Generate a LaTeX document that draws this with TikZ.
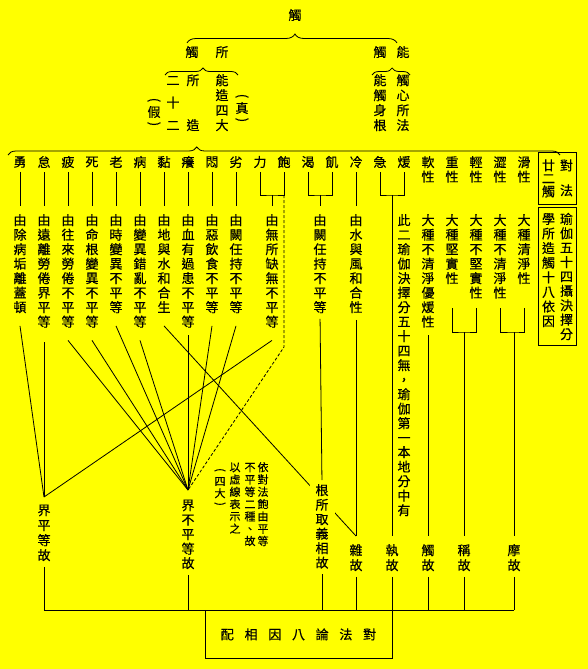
\documentclass[tikz,border=0pt]{standalone}
\usepackage{fontspec}
\setmainfont[FakeBold=0.3]{Noto Sans CJK TC}
\usetikzlibrary{decorations.pathreplacing}

\definecolor{paper}{HTML}{FFFF00}

% vertical column of characters, one per line
\makeatletter
\let\vt@end\relax
\newcommand\vtxt[2][14.5pt]{\vtop{\baselineskip=#1\relax\lineskiplimit=-100pt\lineskip=0pt\expandafter\vt@loop#2\vt@end}}
\def\vt@loop#1{\ifx#1\vt@end\else\hbox to 1em{\hss\vrule height .88em depth .12em width 0pt\relax#1\hss}\expandafter\vt@loop\fi}
\makeatother

\pgfdeclarelayer{bg}
\pgfdeclarelayer{lines}
\pgfsetlayers{bg,lines,main}

\tikzset{
  zh/.style={inner sep=0pt, font=\fontsize{13}{14.5}\selectfont},
  col/.style={zh, anchor=north},
  small/.style={inner sep=0pt, anchor=north, font=\fontsize{11}{12.3}\selectfont},
  link/.style={line width=0.8pt},
  curly/.style={decorate, decoration={brace, amplitude=#1}, line width=0.8pt},
}

\begin{document}
\begin{tikzpicture}[x=1pt,y=-1pt]
\begin{pgfonlayer}{bg}
  \fill[paper] (0,0) rectangle (588,669);
\end{pgfonlayer}

% top
\node[zh] (root) at (295,15) {觸};
\draw[curly=9pt, decoration={aspect=0.514}] (187,43) -- (397,43);
\node[zh] (made) at (207,52) {觸\hspace{17pt}所};
\node[zh] (able) at (391.5,52) {觸\hspace{10pt}能};

\draw[curly=7pt, decoration={aspect=0.52}] (165,75) -- (238,75);
\node[col] (ershier) at (173,73.5) {\vtxt[22.5pt]{二十二}};
\node[col] (suozao) at (193,73.5) {\vtxt[45pt]{所造}};
\node[col] (nengzao) at (222,73.5) {\vtxt[15pt]{能造四大}};
\node[zh] (jia) at (154,112) {假};
\node[zh, rotate=-90] (jiaL) at (154,100) {(};
\node[zh, rotate=-90] (jiaR) at (154,124) {)};
\node[zh] (zhen) at (242,108) {真};
\node[zh, rotate=-90] (zhenL) at (242,96) {(};
\node[zh, rotate=-90] (zhenR) at (242,120) {)};

\draw[curly=7pt, decoration={aspect=0.53}] (372,75) -- (410,75);
\node[col] (shengen) at (380,73.5) {\vtxt[15pt]{能觸身根}};
\node[col] (xinsuo) at (403,73.5) {\vtxt[15pt]{觸心所法}};

% the 22 kinds
\draw[curly=8pt, decoration={aspect=0.342}] (8,155) -- (560,155);
\foreach \ch [count=\n from 0] in {勇,怠,疲,死,老,病,黏,癢,悶,劣,力,飽,渴,飢,冷,急,煖}
  \node[zh] (t\n) at (20+24*\n,162) {\ch};
\foreach \ch [count=\n from 17] in {軟,重,輕,澀,滑}
  \node[col] (t\n) at (20+24*\n,155.5) {\vtxt{\ch 性}};

\node[zh, draw, link, inner xsep=3.5pt, inner ysep=6.5pt, anchor=north] (duifa) at (557.5,152)
  {\vtxt[13pt]{廿二觸}\hspace{5pt}\vtxt[25pt]{對法}};
\node[zh, draw, link, inner xsep=3.5pt, inner ysep=5pt, anchor=north] (yuqie) at (557.5,207)
  {\vtxt[14.6pt]{學所造觸十八依因}\hspace{5pt}\vtxt[14.4pt]{瑜伽五十四攝決擇分}};

% causes
\foreach \n/\txt in {0/由除病垢離蓋頓, 1/由遠離勞倦界平等, 2/由往來勞倦不平等,
    3/由命根變異不平等, 4/由時變異不平等, 5/由變異錯亂不平等, 6/由地與水和合生,
    7/由血有過患不平等, 8/由惡飲食不平等, 9/由闕任持不平等, 14/由水與風和合性,
    17/大種不清淨優煖性, 18/大種堅實性, 19/大種不堅實性, 20/大種不清淨性, 21/大種清淨性}
  \node[col] (d\n) at (20+24*\n,213.5) {\vtxt{\txt}};
\node[col] (d10) at (272,213.5) {\vtxt{由無所缺無不平等}};
\node[col] (d12) at (320,213.5) {\vtxt{由闕任持不平等}};
\node[col] (d15) at (404,213.5) {\vtxt{此二瑜伽決擇分五十四無，瑜伽第一本地分中有}};

% note on the dashed line
\node[small] (note1) at (263,461.5) {\vtxt[12.3pt]{依對法飽由平等}};
\node[small] (note2) at (250,461.5) {\vtxt[12.3pt]{不平等二種、故}};
\node[small] (note3) at (235,461.5) {\vtxt[12.3pt]{以虛線表示之}};
\node[small] (note4) at (220,475.5) {\vtxt[12pt]{四大}};
\node[small, anchor=center, rotate=-90] (note4L) at (220,470) {(};
\node[small, anchor=center, rotate=-90] (note4R) at (220,504) {)};

% the eight reasons
\node[col] (g0) at (44,503.5) {\vtxt[15pt]{界平等故}};
\node[col] (g1) at (188,498.5) {\vtxt{界不平等故}};
\node[col, fill=paper, inner xsep=6pt] (g2) at (322,483.5) {\vtxt{根所取義相故}};
\foreach \n/\x/\txt in {3/356/雜故, 4/392/執故, 5/428/觸故, 6/464/稱故, 7/514/摩故}
  \node[col] (g\n) at (\x,543.5) {\vtxt[15pt]{\txt}};
\node[zh, draw, link, anchor=north, minimum width=187pt, minimum height=48pt] (lun) at (298.5,610)
  {配\hspace{10.7pt}相\hspace{10.7pt}因\hspace{10.7pt}八\hspace{10.7pt}論\hspace{10.7pt}法\hspace{10.7pt}對};

\coordinate (c0) at (44,497);
\coordinate (c1) at (188,490);
\coordinate (c3) at (356,536);
\coordinate (j10) at (272,195);
\coordinate (j12) at (320,195);
\coordinate (j15) at (392,195);
\coordinate (k11) at (284,347);
\coordinate (j18) at (464,332);
\coordinate (j20) at (514,332);

\begin{pgfonlayer}{lines}
  \foreach \n in {0,...,9,14}
    \draw[link, shorten <=4pt, shorten >=8pt] (t\n.south) -- (d\n.north);
  \foreach \a/\b/\j in {10/11/j10, 12/13/j12, 15/16/j15}
    \draw[link, shorten <=4pt, shorten >=4pt] (t\a.south) |- (\j) -| (t\b.south);
  \draw[link, shorten >=8pt] (j10) -- (d10.north);
  \draw[link, shorten >=8pt] (j12) -- (d12.north);
  \draw[link, dash pattern=on 3pt off 2pt] (t11.south |- j10) -- (k11) -- (c1);

  \foreach \n in {0,10}
    \draw[link] ([yshift=-12pt]d\n.south) -- (c0);
  \draw[link, shorten <=14pt] (d1.south) -- (c0);
  \foreach \n in {2,3,4,5,8,9}
    \draw[link] ([yshift=-12pt]d\n.south) -- (c1);
  \draw[link, shorten <=7pt] (d7.south) -- (c1);
  \draw[link] ([yshift=-12pt]d6.south) -- (c3);
  \draw[link, shorten <=6pt] (d14.south) -- (c3);
  \draw[link, shorten <=5pt, shorten >=3.5pt] (d12.south) -- (g2.north);
  \draw[link, shorten >=8pt] (j15) -- (g4.north);
  \draw[link, shorten <=7pt, shorten >=8pt] (d17.south) -- (g5.north);

  \draw[link] (d18.south |- 0,308) |- (j18) -| (d19.south |- 0,308);
  \draw[link] (d20.south |- 0,308) |- (j20) -| (d21.south |- 0,308);
  \draw[link, shorten >=8pt] (j18) -- (g6.north);
  \draw[link, shorten >=8pt] (j20) -- (g7.north);

  \foreach \n in {0,...,7}
    \draw[link, shorten <=5pt] (g\n.south) -- (g\n.south |- 0,610);
  \draw[link] (g0.south |- 0,610) -- (g7.south |- 0,610);
\end{pgfonlayer}
\end{tikzpicture}
\end{document}
